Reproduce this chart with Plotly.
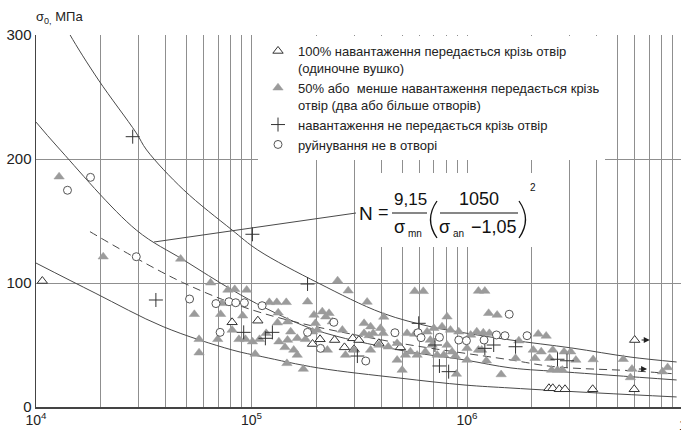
import math
import plotly.graph_objects as go

# ---------------- data ----------------
# 100% of load transferred through the hole (open triangles)
full_N = [1.07e4, 8.13e4, 1.07e5, 1.92e5, 2.08e5, 2.43e5, 2.70e5, 2.95e5, 2.99e5, 3.15e5,
          3.90e5, 4.91e5, 2.40e6, 2.50e6, 2.68e6, 2.85e6, 3.83e6, 5.97e6, 6.0e6]
full_S = [101.6, 68.3, 69.6, 50.8, 54.6, 54, 48.1, 55.4, 46.5, 54,
          51.4, 48.1, 15.1, 15.1, 14.3, 14.3, 14.3, 14.3, 54]

# 50% or less transferred (filled triangles)
partial_N = [
    1.28e4, 2.05e4, 4.69e4, 5.43e4, 5.71e4, 5.71e4,
    6.46e4, 7.28e4, 7.19e4, 6.97e4, 7.77e4, 8.36e4, 9.5e4, 9.1e4, 8.13e4, 8.74e4, 9.38e4, 1.01e5, 1.09e5, 1.04e5,
    1.21e5, 1.31e5, 1.45e5, 1.82e5, 1.33e5, 1.32e5, 1.47e5, 1.95e5, 1.98e5, 2.02e5, 1.52e5, 1.92e5, 1.17e5, 1.34e5,
    1.47e5, 1.63e5, 1.78e5, 1.43e5, 1.57e5, 1.63e5, 1.46e5, 1.74e5, 2.13e5, 2.29e5,
    2.51e5, 2.81e5, 3.44e5, 4.11e5, 5.72e5, 6.27e5, 8.08e5, 2.21e5, 2.37e5, 2.64e5, 3.33e5, 3.57e5, 3.67e5, 3.97e5,
    4.08e5, 3.33e5, 3.51e5, 5.27e5, 5.72e5, 6.53e5, 7.02e5, 6.76e5,
    2.25e5, 2.73e5, 2.99e5, 3.57e5, 3.90e5, 4.31e5, 4.74e5, 5.18e5, 5.46e5, 5.87e5, 6.41e5, 6.89e5, 7.27e5, 4.74e5,
    5.0e5, 8.93e5,
    7.66e5, 8.38e5, 8.08e5, 8.53e5, 7.8e5, 8.83e5, 1.0e6, 1.0e6, 9.16e5, 1.04e6, 1.11e6, 1.19e6, 1.27e6,
    1.13e6, 1.21e6, 1.26e6, 1.38e6, 1.13e6, 1.17e6, 1.23e6, 1.68e6, 1.74e6, 1.44e6,
    2.03e6, 2.07e6, 2.21e6, 2.14e6, 2.33e6, 2.42e6, 2.50e6, 2.47e6, 2.63e6, 2.77e6, 2.82e6, 3.03e6, 3.20e6, 3.85e6,
    5.31e6, 5.83e6, 5.73e6, 8.07e6, 8.53e6]
partial_S = [
    185.7, 121.2, 119.4, 74.8, 54.6, 43.8,
    100.2, 83.6, 74.8, 54.6, 94.4, 94.9, 94.4, 73.6, 62.1, 54.6, 54.6, 52.7, 54.6, 42.7,
    84.4, 84.4, 84.4, 84.9, 76, 68, 68.8, 74.2, 67.5, 62.1, 60.7, 60.7, 59.4, 52.7,
    54, 55.4, 54.6, 48.1, 46, 41.9, 35.2, 30.6, 76.9, 75.6,
    101.9, 93.8, 84.7, 72.6, 93.3, 93.3, 72.8, 72.8, 68.8, 62.1, 67.5, 64.8, 59.4, 63.5,
    59.4, 59.4, 57.7, 59.4, 58.9, 60.7, 63.5, 54,
    46, 41.9, 46, 46, 50, 48.6, 51.4, 41.9, 44.6, 41.9, 44.6, 50, 41.9, 37.9,
    29.8, 26.6,
    64.8, 62.1, 50, 44.6, 41.9, 41.1, 47.3, 37.9, 60.7, 58.1, 60.7, 59.9, 59.4,
    93.5, 93.5, 75.6, 74.2, 46, 46, 37.3, 39.3, 53.5, 26.2,
    46, 39.3, 44.6, 58.9, 57.3, 39.3, 46, 29.8, 29.8, 29.8, 44.6, 44.6, 37.9, 38.3,
    38.5, 30.6, 23.8, 28.5, 31.9]

# no load transferred through the hole (crosses)
plus_N = [2.81e4, 3.60e4, 1.01e5, 1.82e5, 9.2e4, 1.25e5, 1.16e5, 3.10e5, 5.97e5, 7.1e5,
          7.45e5, 8.22e5, 1.21e6, 1.33e6, 1.68e6, 2.63e6, 2.91e6]
plus_S = [218, 86.3, 139.3, 99.2, 60.2, 60.2, 55.4, 41.1, 67.5, 50,
          33.1, 28.5, 47.3, 50, 48.6, 38.5, 37.3]

# failure not in the hole (open circles)
circ_N = [1.40e4, 1.79e4, 2.92e4, 5.16e4, 6.84e4, 7.86e4, 8.45e4, 9.27e4, 1.12e5, 7.15e4,
          1.82e5, 2.09e5, 2.41e5, 3.39e5, 4.63e5, 5.93e5, 6.12e5, 7.45e5, 9.16e5, 9.94e5,
          1.20e6, 1.37e6, 1.50e6, 1.57e6, 1.90e6]
circ_S = [174.8, 185.2, 121.2, 87.1, 83.4, 84.9, 84.1, 84.1, 81.7, 60.2,
          60.2, 47.3, 68.3, 37.1, 59.9, 59.9, 55.9, 56.2, 54, 53.5,
          54, 58.1, 57.5, 74.8, 57.5]

# run-outs (arrows)
runout_N = [6.0e6, 5.83e6]
runout_S = [54, 30.6]

# curves
upper_N = [1.33e4, 1.44e4, 1.95e4, 2.92e4, 3.26e4, 4.85e4, 8.13e4, 1.07e5, 2.04e5, 4.04e5,
           6.89e5, 9.79e5, 1.60e6, 3.06e6, 5.71e6, 9.39e6]
upper_S = [312, 300, 263.7, 221, 207.3, 175, 142.7, 126.6, 100, 75.8,
           64.5, 59.7, 54, 47.6, 40.3, 36.3]
middle_N = [1.0e4, 1.26e4, 2.92e4, 4.85e4, 8.13e4, 1.16e5, 1.98e5, 4.83e5, 9.79e5, 1.60e6, 2.88e6, 9.39e6]
middle_S = [229.8, 209.7, 142.7, 118.5, 94.4, 79.8, 62.1, 46, 37.9, 31.5, 28.2, 21.8]
lower_N = [1.0e4, 1.88e4, 3.89e4, 8.13e4, 1.12e5, 2.04e5, 4.83e5, 9.79e5, 1.60e6, 4.06e6, 9.39e6]
lower_S = [116.1, 91.9, 64.8, 46, 40.6, 31.5, 23.4, 17.7, 15.3, 11.3, 8.1]
mean_N = [1.78e4, 4.85e4, 1.12e5, 4.04e5, 1.60e6, 2.54e6, 5.71e6, 9.39e6]
mean_S = [141.4, 100, 75.8, 54, 37.9, 32.5, 29.3, 26.6]

# ticks
x_decades = [4, 5, 6]
x_tickvals = [m * 10 ** k for k in x_decades for m in range(1, 10)]
x_ticktext = ['10<sup>%d</sup>' % k if m == 1 else '' for k in x_decades for m in range(1, 10)]
y_tickvals = [0, 100, 200, 300]
y_ticktext = ['0', '100', '200', '300']

legend_names = [
    '100% навантаження передається крізь отвір<br>(одиночне вушко)',
    '50% або\u00a0 менше навантаження передається крізь<br>отвір (два або більше отворів)',
    'навантаження не передається крізь отвір',
    'руйнування не в отворі',
]

# ---------------- layout helpers ----------------
FONT = "Liberation Sans, Arial, Helvetica, sans-serif"
W, H = 681, 436
L, R, T, B = 36, 0, 35, 29
PW, PH = W - L - R, H - T - B
DECADE_PX = 215.5


def px(x):
    return (x - L) / PW


def py(y):
    return (H - B - y) / PH


GRID = '#8f8f8f'
CURVE = '#4a4a4a'

fig = go.Figure()

for xs, ys, dash in [(upper_N, upper_S, 'solid'), (middle_N, middle_S, 'solid'),
                     (lower_N, lower_S, 'solid'), (mean_N, mean_S, '8px,5px')]:
    fig.add_trace(go.Scatter(x=xs, y=ys, mode='lines', showlegend=False, hoverinfo='skip',
                             line=dict(color=CURVE, width=1, dash=dash, shape='spline', smoothing=1.0)))

fig.add_trace(go.Scatter(x=full_N, y=full_S, mode='markers', name=legend_names[0],
                         marker=dict(symbol='triangle-up', size=9, color='white',
                                     line=dict(color='#333333', width=1))))
fig.add_trace(go.Scatter(x=partial_N, y=partial_S, mode='markers', name=legend_names[1],
                         marker=dict(symbol='triangle-up', size=9, color='#9b9b9b',
                                     line=dict(color='#9b9b9b', width=0.5))))
fig.add_trace(go.Scatter(x=plus_N, y=plus_S, mode='markers', name=legend_names[2],
                         marker=dict(symbol='cross-thin', size=10, color='#333333',
                                     line=dict(color='#333333', width=1))))
fig.add_trace(go.Scatter(x=circ_N, y=circ_S, mode='markers', name=legend_names[3],
                         marker=dict(symbol='circle', size=8, color='white',
                                     line=dict(color='#555555', width=1))))

shapes = []
# white box behind formula
shapes.append(dict(type='rect', xref='paper', yref='paper', x0=px(357), x1=px(545), y0=py(247), y1=py(173),
                   fillcolor='white', line=dict(width=0), layer='above'))
# leader line
shapes.append(dict(type='line', xref='paper', yref='paper', x0=px(154), y0=py(242), x1=px(356), y1=py(213),
                   line=dict(color=CURVE, width=1)))
# fraction bars
shapes.append(dict(type='line', xref='paper', yref='paper', x0=px(392), x1=px(427), y0=py(213), y1=py(213),
                   line=dict(color='#111', width=1.2)))
shapes.append(dict(type='line', xref='paper', yref='paper', x0=px(440), x1=px(518), y0=py(213), y1=py(213),
                   line=dict(color='#111', width=1.2)))


def paren(x_end, x_ctrl, y0, y1):
    ym = (y0 + y1) / 2
    return dict(type='path', xref='paper', yref='paper',
                path='M %f,%f Q %f,%f %f,%f' % (px(x_end), py(y0), px(x_ctrl), py(ym), px(x_end), py(y1)),
                line=dict(color='#111', width=1.3))


shapes.append(paren(437, 424, 201, 238))
shapes.append(paren(519, 532, 201, 238))

ann = []


def txt(s, x, y, size, anchor='center'):
    ann.append(dict(text=s, xref='paper', yref='paper', x=px(x), y=py(y), xanchor=anchor, yanchor='middle',
                    showarrow=False, font=dict(family=FONT, size=size, color='#111')))


txt('N', 365.5, 213, 19)
txt('=', 383, 212, 18)
txt('9,15', 410, 199, 17)
txt('σ', 399, 227, 18)
txt('mn', 414.5, 233, 10)
txt('1050', 478.5, 199, 18)
txt('σ', 445, 227, 18)
txt('an', 458, 233, 10)
txt('\u22121,05', 494, 227, 18)
txt('2', 532.5, 187.5, 10)

# y axis title
ann.append(dict(text='σ<sub>0,</sub> МПа', xref='paper', yref='paper', x=px(34), y=py(17), xanchor='left',
                yanchor='middle', showarrow=False, font=dict(family=FONT, size=13, color='#222')))
# 10^7 label at the cut-off right edge
ann.append(dict(text='10<sup>7</sup>', xref='paper', yref='paper', x=px(689), y=py(424), xanchor='center',
                yanchor='middle', showarrow=False, font=dict(family=FONT, size=14, color='#222')))

# run-out arrows
for n, s in zip(runout_N, runout_S):
    ann.append(dict(x=math.log10(n) + 0.07, y=s, ax=math.log10(n) + 0.025, ay=s, xref='x', yref='y',
                    axref='x', ayref='y', text='', showarrow=True, arrowhead=2, arrowsize=1.1,
                    arrowwidth=1.1, arrowcolor='#222'))

fig.update_layout(
    width=W, height=H,
    margin=dict(l=L, r=R, t=T, b=B, pad=0),
    paper_bgcolor='white', plot_bgcolor='white',
    font=dict(family=FONT, size=14, color='#222'),
    shapes=shapes, annotations=ann,
    legend=dict(x=px(258), y=py(36), xanchor='left', yanchor='top', bgcolor='white',
                font=dict(family=FONT, size=13, color='#222'), valign='top', tracegroupgap=2,
                borderwidth=0),
    xaxis=dict(type='log', range=[4, 4 + PW / DECADE_PX], tickvals=x_tickvals, ticktext=x_ticktext,
               showgrid=True, gridcolor=GRID, gridwidth=1, showline=True, linecolor='#444', linewidth=1.5,
               ticks='', zeroline=False, tickfont=dict(size=14)),
    yaxis=dict(range=[0, 300], tickvals=y_tickvals, ticktext=y_ticktext, showgrid=True, gridcolor=GRID,
               gridwidth=1, showline=True, linecolor='#444', linewidth=1.5, ticks='', zeroline=False,
               tickfont=dict(size=15)),
)

fig.write_html("out.html",
               config={'displayModeBar': False, 'staticPlot': True},
               post_script="document.body.style.margin='0px';document.body.style.overflow='hidden';")
